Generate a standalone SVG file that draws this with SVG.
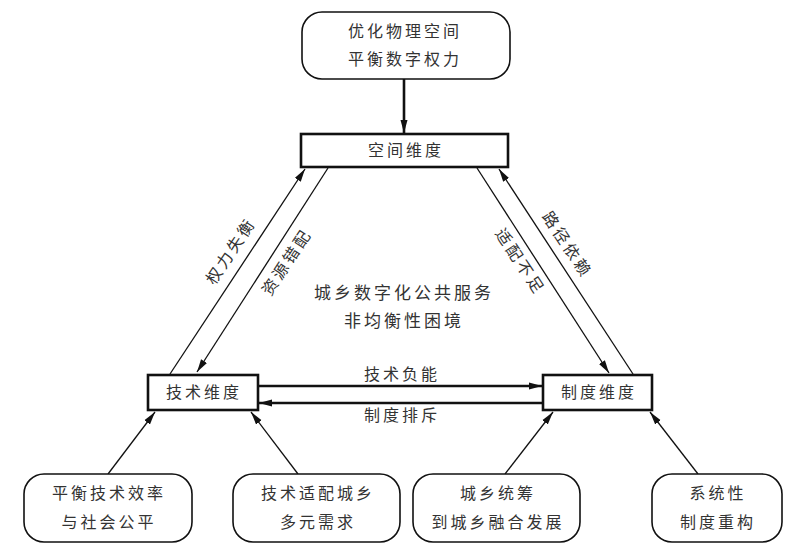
<svg xmlns="http://www.w3.org/2000/svg" width="800" height="558" viewBox="0 0 800 558">
<style>
text{font-family:"Liberation Sans","Noto Sans CJK SC",sans-serif;fill:#333;font-size:16px;text-anchor:middle;letter-spacing:3px}
.rbox{fill:#fff;stroke:#111;stroke-width:1.6}
.sbox{fill:#fff;stroke:#111;stroke-width:2.6}
.thin{stroke:#111;stroke-width:1.3;fill:none}
.thick{stroke:#111;stroke-width:2.6;fill:none}
.big{font-size:17px}
</style>
<defs>
<marker id="ah" markerUnits="userSpaceOnUse" markerWidth="14" markerHeight="8" refX="13" refY="4" orient="auto">
<path d="M0,0.5 L13,4 L0,7.5 z" fill="#111"/>
</marker>
</defs>
<rect width="800" height="558" fill="#fff"/>
<g id="connectors">
<line class="thick" x1="404" y1="79" x2="404" y2="133" marker-end="url(#ah)"/>
<line class="thin" x1="170" y1="374" x2="305" y2="169" marker-end="url(#ah)"/>
<line class="thin" x1="328" y1="168" x2="197" y2="372" marker-end="url(#ah)"/>
<line class="thin" x1="477" y1="168" x2="609" y2="373" marker-end="url(#ah)"/>
<line class="thin" x1="633" y1="374" x2="499" y2="169" marker-end="url(#ah)"/>
<line class="thick" x1="258" y1="386" x2="542" y2="386" marker-end="url(#ah)"/>
<line class="thick" x1="543" y1="403" x2="259" y2="403" marker-end="url(#ah)"/>
<line class="thin" x1="108" y1="474" x2="155" y2="412" marker-end="url(#ah)"/>
<line class="thin" x1="298" y1="474" x2="251" y2="412" marker-end="url(#ah)"/>
<line class="thin" x1="505" y1="474" x2="553" y2="412" marker-end="url(#ah)"/>
<line class="thin" x1="698" y1="474" x2="650" y2="412" marker-end="url(#ah)"/>
<text x="231" y="251" dominant-baseline="central" transform="rotate(-56.5 231 251)">权力失衡</text>
<text x="287" y="262" dominant-baseline="central" transform="rotate(-56.5 287 262)">资源错配</text>
<text x="520" y="262" dominant-baseline="central" transform="rotate(56.5 520 262)">适配不足</text>
<text x="567" y="245" dominant-baseline="central" transform="rotate(56.5 567 245)">路径依赖</text>
<text x="402" y="380">技术负能</text>
<text x="402" y="421">制度排斥</text>
</g>
<g id="top">
<rect class="rbox" x="302" y="12" width="208" height="67" rx="20"/>
<text x="405" y="37">优化物理空间</text>
<text x="405" y="65">平衡数字权力</text>
</g>
<g id="space">
<rect class="sbox" x="301" y="134" width="207" height="33"/>
<text x="406" y="156">空间维度</text>
</g>
<g id="center">
<text class="big" x="404" y="299">城乡数字化公共服务</text>
<text class="big" x="404" y="327">非均衡性困境</text>
</g>
<g id="tech">
<rect class="sbox" x="148" y="375" width="110" height="35"/>
<text x="204" y="398">技术维度</text>
</g>
<g id="inst">
<rect class="sbox" x="543" y="375" width="109" height="35"/>
<text x="599" y="398">制度维度</text>
</g>
<g id="b1">
<rect class="rbox" x="24" y="474" width="168" height="68" rx="20"/>
<text x="109" y="499">平衡技术效率</text>
<text x="109" y="528">与社会公平</text>
</g>
<g id="b2">
<rect class="rbox" x="233" y="474" width="167" height="68" rx="20"/>
<text x="318" y="499">技术适配城乡</text>
<text x="318" y="528">多元需求</text>
</g>
<g id="b3">
<rect class="rbox" x="413" y="474" width="167" height="68" rx="20"/>
<text x="498" y="499">城乡统筹</text>
<text x="498" y="528">到城乡融合发展</text>
</g>
<g id="b4">
<rect class="rbox" x="652" y="474" width="130" height="68" rx="20"/>
<text x="718" y="499">系统性</text>
<text x="718" y="528">制度重构</text>
</g>
</svg>
